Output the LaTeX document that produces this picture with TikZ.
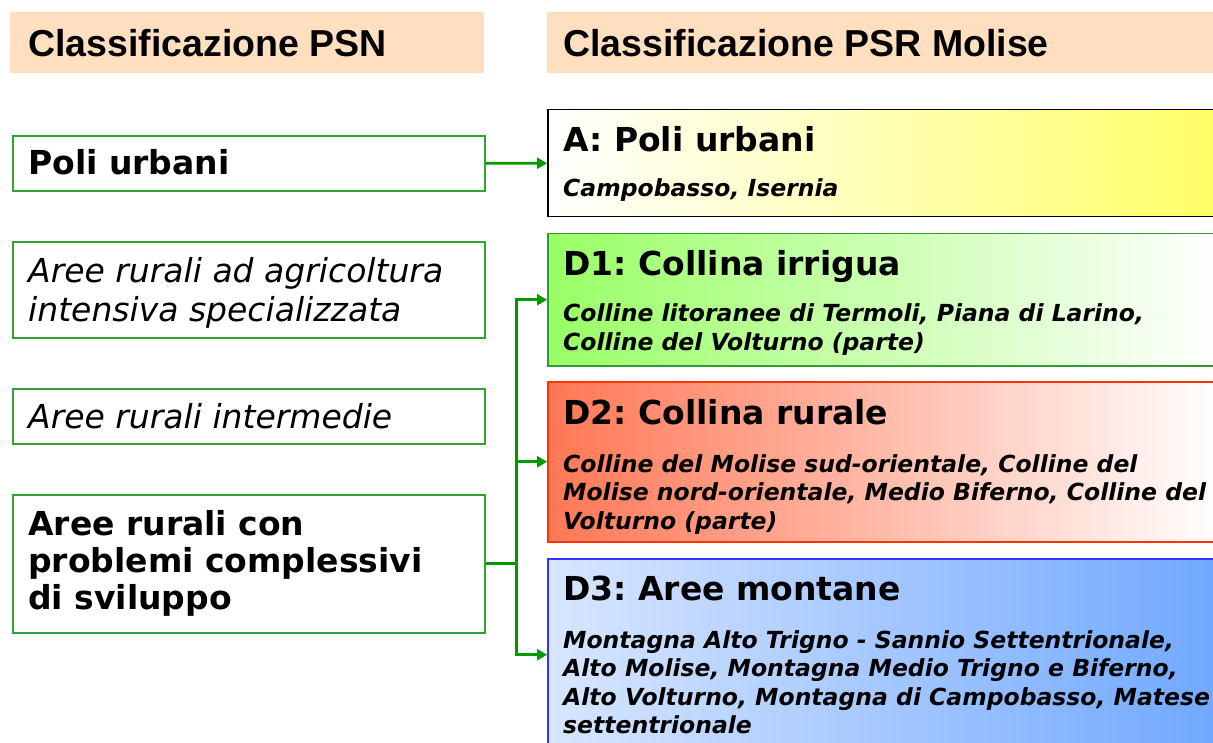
\documentclass[tikz,border=0pt]{standalone}
\usepackage{fontspec}
\setmainfont{DejaVu Sans}
\newfontfamily\headfont{Liberation Sans}
\usetikzlibrary{positioning,arrows.meta}
\definecolor{Peach}{HTML}{FFDFC0}
\definecolor{BoxGreen}{HTML}{33A333}
\definecolor{LinkGreen}{HTML}{009900}
\definecolor{SoftYellow}{HTML}{FFFF66}
\definecolor{SoftGreen}{HTML}{99FF66}
\definecolor{EdgeGreen}{HTML}{339933}
\definecolor{SoftRed}{HTML}{FF7755}
\definecolor{EdgeRed}{HTML}{FF3300}
\definecolor{PaleBlue}{HTML}{D8E6FF}
\definecolor{MidBlue}{HTML}{70A8FF}
\definecolor{EdgeBlue}{HTML}{3333FF}
\frenchspacing
% lines stacked under the baseline of the first one
\newcommand{\toplines}[1]{\vtop{\halign{##\hfil\cr#1\crcr}}}

\begin{document}
\begin{tikzpicture}[x=1pt,y=-1pt,>={Triangle[length=10pt,width=11pt]},
    head/.style={fill=Peach,minimum height=61pt,anchor=north west,inner sep=0pt},
    psn/.style={draw=BoxGreen,line width=1.6pt,fill=white,minimum width=472pt,anchor=north west,inner sep=0pt},
    psr/.style={line width=1.5pt,minimum width=673pt,anchor=north west,inner sep=0pt},
    headtxt/.style={anchor=base west,inner sep=0pt,font=\headfont\bfseries\fontsize{37.5}{40}\selectfont},
    boldtxt/.style={anchor=base west,inner sep=0pt,font=\bfseries\fontsize{33}{37}\selectfont},
    itaBtxt/.style={anchor=base west,inner sep=0pt,font=\itshape\fontsize{33}{39}\selectfont},
    subtxt/.style={anchor=base west,inner sep=0pt,font=\bfseries\itshape\fontsize{23.5}{28.5}\selectfont},
    link/.style={->,draw=LinkGreen,line width=2.8pt}]
  \useasboundingbox (0,0) rectangle (1213,743);
  % headers
  \node[head,minimum width=474pt] (hpsn) at (10,12) {};
  \node[head,minimum width=680pt] (hpsr) at (547,12) {};
  \node[headtxt] (hpsnt) at (28,57) {Classificazione PSN};
  \node[headtxt] (hpsrt) at (563,57) {Classificazione PSR Molise};
  % PSN side
  \node[psn,minimum height=55pt] (p1) at (12,135) {};
  \node[psn,minimum height=96pt] (p2) at (12,241) {};
  \node[psn,minimum height=55pt] (p3) at (12,388) {};
  \node[psn,minimum height=138pt] (p4) at (12,494) {};
  \node[boldtxt] (p1t) at (28,175) {Poli urbani};
  \node[itaBtxt] (p2t) at (28,283) {\toplines{Aree rurali ad agricoltura\cr intensiva specializzata}};
  \node[itaBtxt] (p3t) at (28,428) {Aree rurali intermedie};
  \node[boldtxt] (p4t) at (28,535) {\toplines{Aree rurali con\cr problemi complessivi\cr di sviluppo}};
  % PSR Molise side
  \node[psr,draw=black,left color=white,right color=SoftYellow,minimum height=107pt] (A) at (547,109) {};
  \node[psr,draw=EdgeGreen,left color=SoftGreen,right color=white,minimum height=132pt] (D1) at (547,233) {};
  \node[psr,draw=EdgeRed,left color=SoftRed,right color=white,minimum height=160pt] (D2) at (547,381) {};
  \node[psr,draw=EdgeBlue,left color=PaleBlue,right color=MidBlue,minimum height=192pt] (D3) at (547,558) {};
  \node[boldtxt] (At) at (563,152) {A: Poli urbani};
  \node[subtxt] (As) at (563,197) {Campobasso, Isernia};
  \node[boldtxt] (D1t) at (563,276) {D1: Collina irrigua};
  \node[subtxt] (D1s) at (563,322) {\toplines{Colline litoranee di Termoli, Piana di Larino,\cr Colline del Volturno (parte)}};
  \node[boldtxt] (D2t) at (563,424) {D2: Collina rurale};
  \node[subtxt] (D2s) at (563,472) {\toplines{Colline del Molise sud-orientale, Colline del\cr Molise nord-orientale, Medio Biferno, Colline del\cr Volturno (parte)}};
  \node[boldtxt] (D3t) at (563,600) {D3: Aree montane};
  \node[subtxt] (D3s) at (563,648) {\toplines{Montagna Alto Trigno - Sannio Settentrionale,\cr Alto Molise, Montagna Medio Trigno e Biferno,\cr Alto Volturno, Montagna di Campobasso, Matese\cr settentrionale}};
  % links
  \draw[link] (p1.east) -- (A.west);
  \draw[link] (p4.east) -- ++(31,0) coordinate (fork) |- (D1.west);
  \draw[link] (fork) |- (D2.west);
  \draw[link] (fork) |- (D3.west);
\end{tikzpicture}
\end{document}
